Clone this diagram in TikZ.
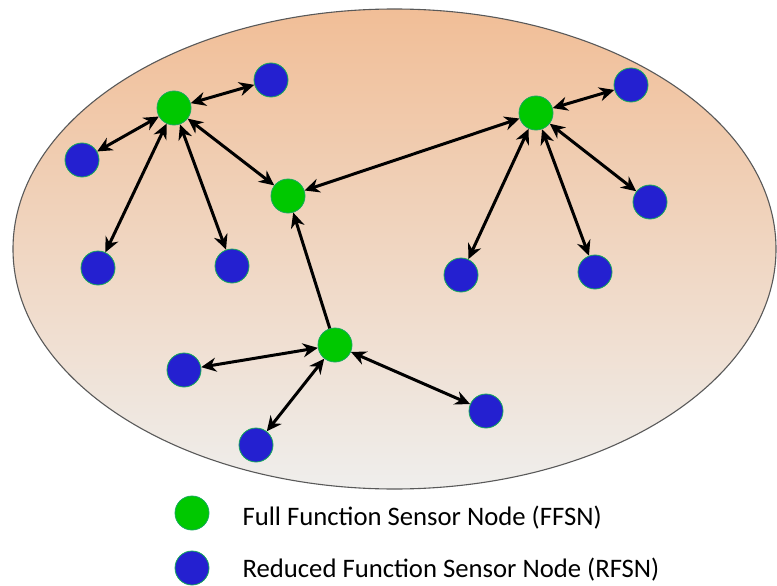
\documentclass[tikz,border=0pt]{standalone}
\usepackage{fontspec}
\setmainfont{Carlito}
\usepackage{xcolor}
\definecolor{wsnpeach}{RGB}{241, 190, 151}
\definecolor{wsngray}{RGB}{239, 238, 236}
\definecolor{wsngreen}{RGB}{0, 200, 0}
\definecolor{wsnblue}{RGB}{36, 32, 208}
\definecolor{wsnrim}{RGB}{20, 170, 90}
\usetikzlibrary{arrows.meta}

\tikzset{
    ffsn/.style={circle, fill=wsngreen, draw=wsnrim, line width=0.8pt,
        minimum size=34pt, inner sep=0pt},
    rfsn/.style={circle, fill=wsnblue, draw=wsnrim, line width=0.8pt,
        minimum size=34pt, inner sep=0pt},
    link/.style={line width=3pt, black,
        {Stealth[length=15pt,width=14pt]}-{Stealth[length=15pt,width=14pt]}},
    uplink/.style={line width=3pt, black, -{Stealth[length=15pt,width=14pt]}}
}

\begin{document}
\begin{tikzpicture}[x=1pt, y=-1pt, font=\fontsize{26.7}{30}\selectfont]

\useasboundingbox (0,0) rectangle (777,586);

% =====================================================
% ZONA DE LA RED
% =====================================================
\shade[top color=wsnpeach, bottom color=wsngray]
    (394.5,249) ellipse (381.5 and 240);
\draw[gray!70!black, line width=1.1pt]
    (394.5,249) ellipse (381.5 and 240);

% --- Nodos de funcion completa ---
\node[ffsn] (f1) at (174,108) {};
\node[ffsn] (f2) at (536,113) {};
\node[ffsn] (f3) at (288,196) {};
\node[ffsn] (f4) at (335,345) {};

% --- Nodos de funcion reducida ---
\node[rfsn] (r1) at (271,80) {};
\node[rfsn] (r2) at (82,160) {};
\node[rfsn] (r3) at (98,268) {};
\node[rfsn] (r4) at (232,266) {};
\node[rfsn] (r5) at (631,85) {};
\node[rfsn] (r6) at (650,202) {};
\node[rfsn] (r7) at (461,275) {};
\node[rfsn] (r8) at (595,272) {};
\node[rfsn] (r9) at (184,370) {};
\node[rfsn] (r10) at (256,445) {};
\node[rfsn] (r11) at (486,411) {};

% --- Enlaces ---
\foreach \a/\b in {f1/r1, f1/r2, f1/r3, f1/r4, f1/f3, f2/f3,
                   f2/r5, f2/r6, f2/r7, f2/r8, f4/r9, f4/r10, f4/r11} {
    \draw[link] (\a) -- (\b);
}
\draw[uplink] (f4) -- (f3);

% =====================================================
% LEYENDA
% =====================================================
\node[ffsn] (kf) at (192,513) {};
\node[rfsn] (kr) at (192,568) {};
\node[anchor=west] (tf) at (239,518) {Full Function Sensor Node (FFSN)};
\node[anchor=west] (tr) at (239,570) {Reduced Function Sensor Node (RFSN)};

\end{tikzpicture}
\end{document}
